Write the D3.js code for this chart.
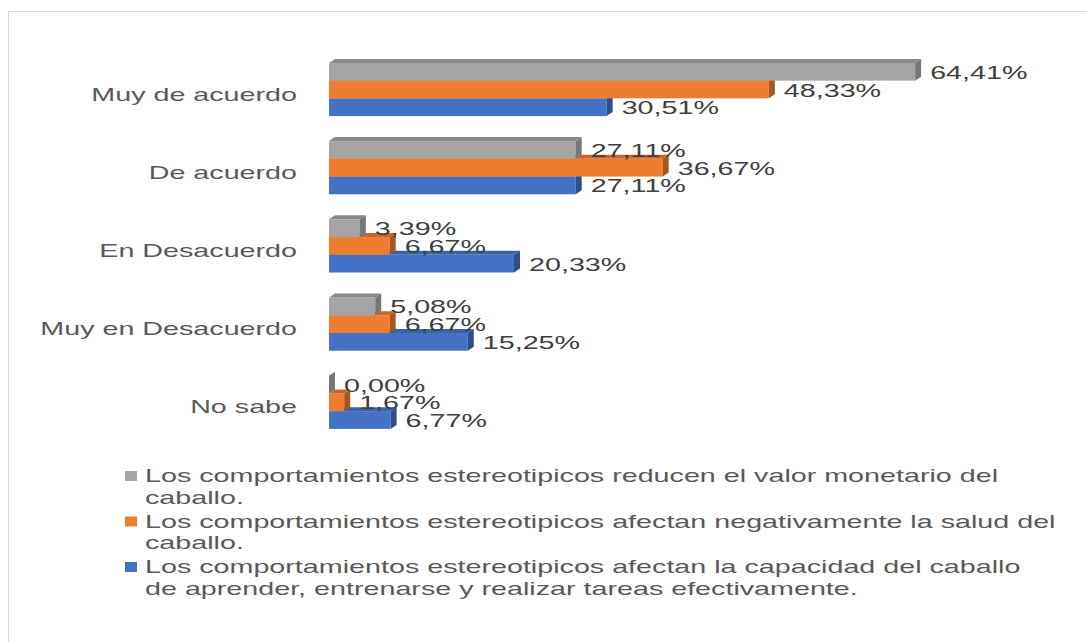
<!DOCTYPE html>
<html>
<head>
<meta charset="utf-8">
<script src="https://cdn.jsdelivr.net/npm/d3@7"></script>
<style>
  body { margin: 0; background: #fff; }
  svg { display: block; font-family: 'Liberation Sans', Arial, sans-serif; }
</style>
</head>
<body>
<div id="container"></div>
<script>
const categories = ['Muy de acuerdo', 'De acuerdo', 'En Desacuerdo', 'Muy en Desacuerdo', 'No sabe'];
const reducenValor = [64.41, 27.11, 3.39, 5.08, 0.0];
const afectanSalud = [48.33, 36.67, 6.67, 6.67, 1.67];
const afectanAprender = [30.51, 27.11, 20.33, 15.25, 6.77];
const legendLines = [
  ['Los comportamientos estereotipicos reducen el valor monetario del', 'caballo.'],
  ['Los comportamientos estereotipicos afectan negativamente la salud del', 'caballo.'],
  ['Los comportamientos estereotipicos afectan la capacidad del caballo', 'de aprender, entrenarse y realizar tareas efectivamente.']
];

const w = 1087;
const h = 642;
const sx = 1.51; // text is stretched horizontally in the original
const depthX = 6;
const depthY = 4;

const series = [
  { key: 'reducen', values: reducenValor, front: '#a5a5a5', top: '#8a8a8a', side: '#777777' },
  { key: 'salud', values: afectanSalud, front: '#ed7d31', top: '#c9642a', side: '#a9561e' },
  { key: 'aprender', values: afectanAprender, front: '#4472c4', top: '#3a62ab', side: '#2f4f8a' }
];

const svg = d3.select('#container')
  .append('svg')
  .attr('width', w)
  .attr('height', h);

svg.append('rect')
  .attr('x', 8.5).attr('y', 11.5)
  .attr('width', w + 20).attr('height', h + 20)
  .attr('fill', '#fff')
  .attr('stroke', '#d9d9d9');

const xScale = d3.scaleLinear().domain([0, 70]).range([329, 966]);
const yScale = d3.scaleBand()
  .domain(categories)
  .range([50.4, 441.4])
  .paddingInner(0.32)
  .paddingOuter(0.16);
const ySub = d3.scaleBand()
  .domain(series.map(s => s.key))
  .range([0, yScale.bandwidth()]);

const fmt = v => d3.format('.2f')(v).replace('.', ',') + '%';

// category labels
svg.append('g')
  .selectAll('text')
  .data(categories)
  .enter()
  .append('text')
  .attr('transform', d => `translate(297,${yScale(d) + yScale.bandwidth() / 2 + 11}) scale(${sx},1)`)
  .attr('text-anchor', 'end')
  .attr('font-size', 19)
  .attr('fill', '#595959')
  .text(d => d);

// bars, drawn bottom series first so upper bars cover lower top faces
const bars = svg.append('g');
categories.forEach((cat, i) => {
  series.slice().reverse().forEach(s => {
    const y0 = yScale(cat) + ySub(s.key);
    const bh = ySub.bandwidth();
    const x0 = xScale(0);
    const x1 = xScale(s.values[i]);
    const g = bars.append('g');
    g.append('rect')
      .attr('x', x0).attr('y', y0)
      .attr('width', x1 - x0).attr('height', bh)
      .attr('fill', s.front);
    g.append('path')
      .attr('d', `M${x0},${y0}L${x0 + depthX},${y0 - depthY}L${x1 + depthX},${y0 - depthY}L${x1},${y0}Z`)
      .attr('fill', s.top);
    g.append('path')
      .attr('d', `M${x1},${y0}L${x1 + depthX},${y0 - depthY}L${x1 + depthX},${y0 + bh - depthY}L${x1},${y0 + bh}Z`)
      .attr('fill', s.side);
  });
});

// value labels
const labels = svg.append('g');
series.forEach(s => {
  labels.selectAll(null)
    .data(s.values.map((v, i) => ({ v, cat: categories[i] })))
    .enter()
    .append('text')
    .attr('transform', d => `translate(${xScale(d.v) + 15},${yScale(d.cat) + ySub(s.key) + ySub.bandwidth() / 2 + 7}) scale(${sx},1)`)
    .attr('font-size', 19)
    .attr('fill', '#404040')
    .text(d => fmt(d.v));
});

// legend
const legend = svg.selectAll('.legend')
  .data(series)
  .enter()
  .append('g')
  .attr('class', 'legend')
  .attr('transform', (d, i) => `translate(0,${482 + i * 45.5})`);

legend.append('rect')
  .attr('x', 125)
  .attr('y', -11)
  .attr('width', 12)
  .attr('height', 10)
  .attr('fill', d => d.front);

legend.each(function (d, i) {
  const gl = d3.select(this);
  legendLines[i].forEach((line, j) => {
    gl.append('text')
      .attr('transform', `translate(145,${j * 21.5}) scale(${sx},1)`)
      .attr('font-size', 19)
      .attr('fill', '#595959')
      .text(line);
  });
});
</script>
</body>
</html>
